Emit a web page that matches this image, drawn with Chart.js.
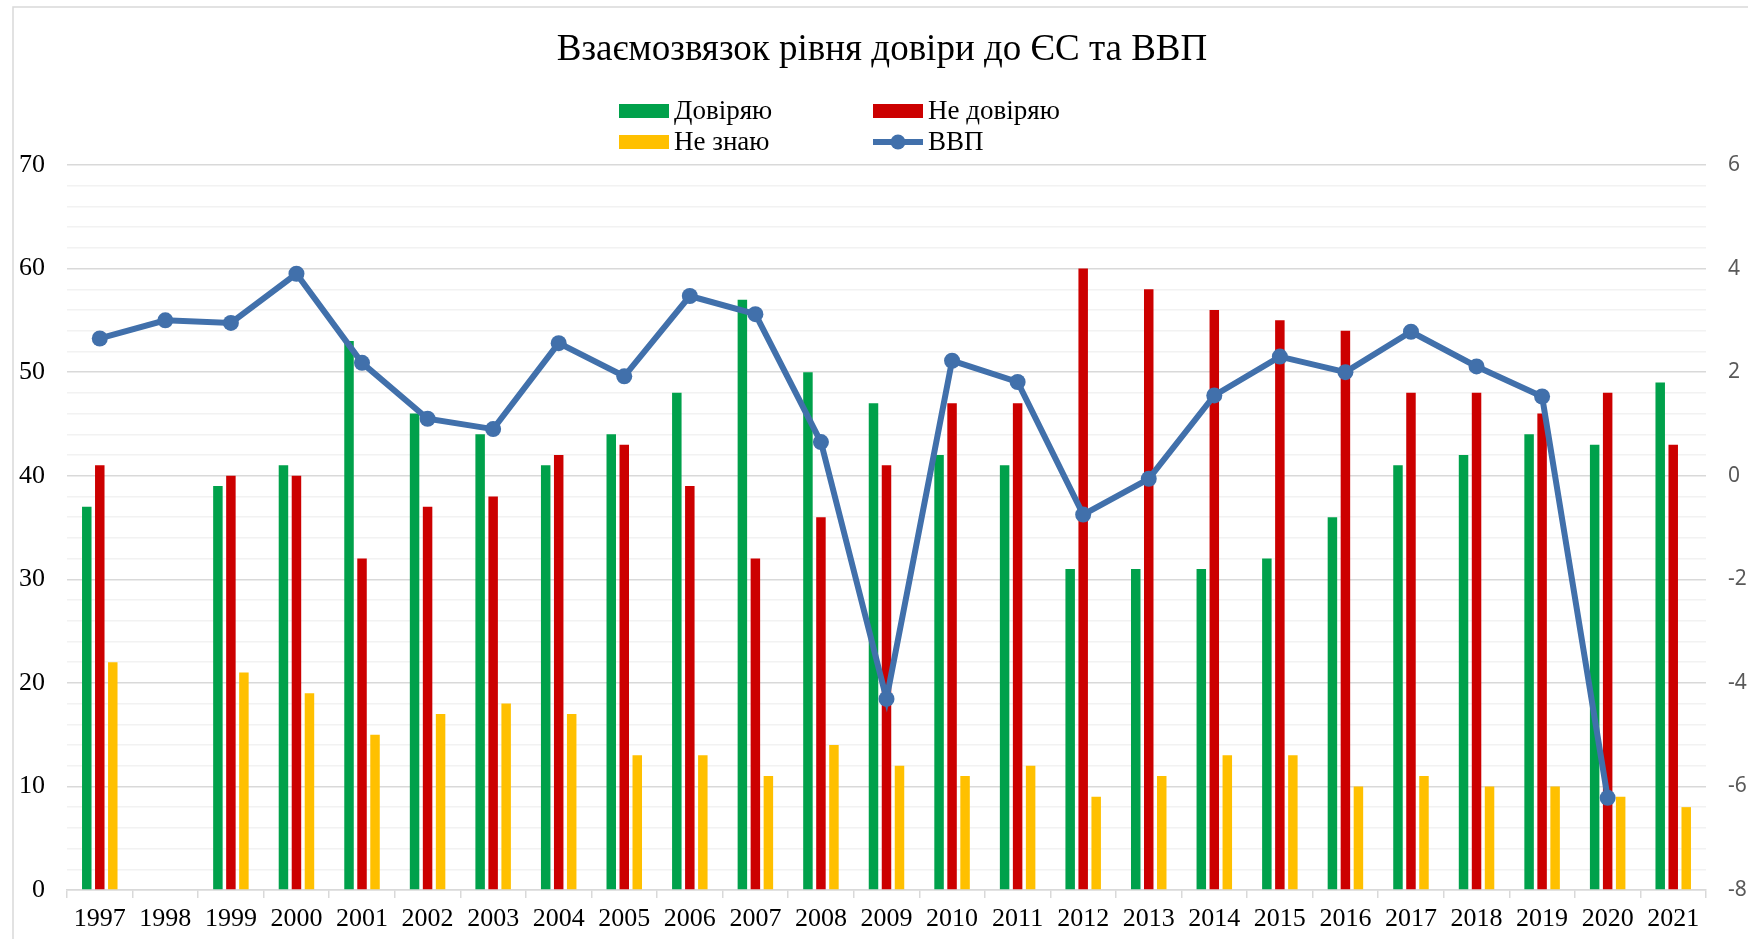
<!DOCTYPE html>
<html>
<head>
<meta charset="utf-8">
<script src="https://cdn.jsdelivr.net/npm/chart.js@4/dist/chart.umd.min.js"></script>
<style>
  html, body { margin: 0; padding: 0; background: #fff; }
  #wrap { position: relative; width: 1748px; height: 939px; }
</style>
</head>
<body>
<div id="wrap"><canvas id="myChart"></canvas></div>
<script>
var years = ["1997","1998","1999","2000","2001","2002","2003","2004","2005","2006","2007","2008","2009","2010","2011","2012","2013","2014","2015","2016","2017","2018","2019","2020","2021"];
var trust    = [37, null, 39, 41, 53, 46, 44, 41, 44, 48, 57, 50, 47, 42, 41, 31, 31, 31, 32, 36, 41, 42, 44, 43, 49];
var distrust = [41, null, 40, 40, 32, 37, 38, 42, 43, 39, 32, 36, 41, 47, 47, 60, 58, 56, 55, 54, 48, 48, 46, 48, 43];
var dontKnow = [22, null, 21, 19, 15, 17, 18, 17, 13, 13, 11, 14, 12, 11, 12, 9, 11, 13, 13, 10, 11, 10, 10, 9, 8];
var gdp      = [2.65, 3.0, 2.95, 3.9, 2.18, 1.1, 0.9, 2.56, 1.92, 3.47, 3.12, 0.65, -4.31, 2.22, 1.81, -0.75, -0.06, 1.55, 2.3, 2.0, 2.78, 2.11, 1.53, -6.22, null];
var seriesNames = ["Довіряю", "Не довіряю", "Не знаю", "ВВП"];
var chartTitle = "Взаємозвязок рівня довіри до ЄС та ВВП";

var GREEN = '#00A14B', RED = '#CC0000', YELLOW = '#FFC000', BLUE = '#4170AB';
var serif = "'Liberation Serif', 'DejaVu Serif', serif";

// title, legend and outer frame drawn by hand
var decor = {
    id: 'decor',
    beforeDraw: function(chart){
        var c = chart.ctx;
        c.save();
        c.strokeStyle = '#d9d9d9';
        c.lineWidth = 1.5;
        c.beginPath();
        c.moveTo(13, 939); c.lineTo(13, 7); c.lineTo(1748, 7);
        c.stroke();
        c.restore();
    },
    afterDraw: function(chart){
        var c = chart.ctx;
        c.save();
        c.fillStyle = '#000';
        c.textAlign = 'center';
        c.textBaseline = 'middle';
        c.font = "37px " + serif;
        c.fillText(chartTitle, 882, 50);

        var items = [
            {x: 619, y: 111, color: GREEN, text: seriesNames[0]},
            {x: 873, y: 111, color: RED, text: seriesNames[1]},
            {x: 619, y: 142, color: YELLOW, text: seriesNames[2]},
            {x: 873, y: 142, color: BLUE, text: seriesNames[3], line: true}
        ];
        c.font = "27px " + serif;
        c.textAlign = 'left';
        items.forEach(function(it){
            if (it.line) {
                c.strokeStyle = it.color;
                c.lineWidth = 6;
                c.beginPath();
                c.moveTo(it.x, it.y); c.lineTo(it.x + 50, it.y);
                c.stroke();
                c.fillStyle = it.color;
                c.beginPath();
                c.arc(it.x + 25, it.y, 7.5, 0, Math.PI * 2);
                c.fill();
            } else {
                c.fillStyle = it.color;
                c.fillRect(it.x, it.y - 7, 50, 14);
            }
            c.fillStyle = '#000';
            c.fillText(it.text, it.x + 55, it.y + 1);
        });
        c.restore();
    }
};

document.addEventListener('DOMContentLoaded', function(){
    var data = {
        labels: years,
        datasets: [
            { type: 'bar', label: seriesNames[0], data: trust, backgroundColor: GREEN, yAxisID: 'y', order: 1 },
            { type: 'bar', label: seriesNames[1], data: distrust, backgroundColor: RED, yAxisID: 'y', order: 1 },
            { type: 'bar', label: seriesNames[2], data: dontKnow, backgroundColor: YELLOW, yAxisID: 'y', order: 1 },
            { type: 'line', label: seriesNames[3], data: gdp, yAxisID: 'y1', order: 0,
              borderColor: BLUE, backgroundColor: BLUE, borderWidth: 6,
              pointRadius: 8, pointBorderWidth: 0, pointBackgroundColor: BLUE, tension: 0 }
        ]
    };
    var options = {
        responsive: true,
        maintainAspectRatio: false,
        animation: false,
        categoryPercentage: 0.595,
        barPercentage: 0.73,
        layout: { padding: { top: 165, left: 0, right: 0, bottom: 0 } },
        plugins: {
            legend: { display: false },
            title: { display: false },
            tooltip: { enabled: false }
        },
        scales: {
            x: {
                offset: true,
                grid: { drawOnChartArea: false, drawTicks: true, tickLength: 8, color: '#d9d9d9', lineWidth: 1.5 },
                border: { color: '#d9d9d9', width: 1.5 },
                ticks: { autoSkip: false, maxRotation: 0, color: '#000', padding: 6, font: { family: serif, size: 26 } },
                afterFit: function(s){ s.height = 49; }
            },
            y: {
                position: 'left',
                min: 0, max: 70,
                grid: {
                    drawTicks: false,
                    lineWidth: 1.5,
                    color: function(ctx){ return ctx.tick && ctx.tick.value % 10 === 0 ? '#d9d9d9' : '#f2f2f2'; }
                },
                border: { display: false },
                ticks: {
                    stepSize: 2, autoSkip: false, padding: 22, color: '#000',
                    font: { family: serif, size: 26 },
                    callback: function(v){ return v % 10 === 0 ? v : ''; }
                },
                afterFit: function(s){ s.width = 67; }
            },
            y1: {
                position: 'right',
                min: -8, max: 6,
                grid: { drawOnChartArea: false, drawTicks: false },
                border: { display: false },
                ticks: { stepSize: 2, autoSkip: false, padding: 22, color: '#595959', font: { family: "'Noto Sans', sans-serif", size: 21 } },
                afterFit: function(s){ s.width = 42; }
            }
        }
    };

    var ctx = document.getElementById("myChart").getContext('2d');
    var myChart = new Chart(ctx, {
        data: data,
        options: options,
        plugins: [decor]
    });
});
</script>
</body>
</html>
